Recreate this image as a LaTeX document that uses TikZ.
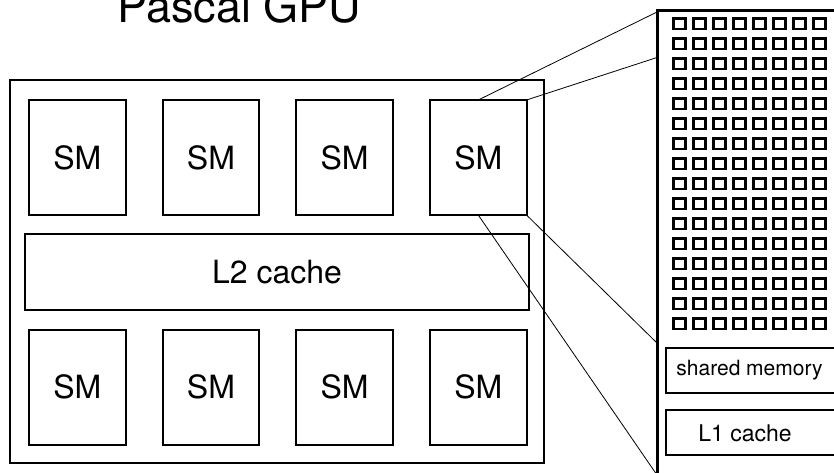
\documentclass[tikz,border=0pt]{standalone}
\usepackage{fontspec}
\setmainfont{TeX Gyre Heros}

\tikzset{
  smbox/.style={draw=black, line width=2pt, minimum width=96.5pt,
    minimum height=115pt, font=\fontsize{32}{38}\selectfont},
  cell/.style={draw=black, line width=2.2pt},
  membox/.style={draw=black, line width=2pt},
  link/.style={draw=black, line width=0.8pt},
}

\begin{document}
\begin{tikzpicture}[y=1pt, x=1pt, yscale=-1, inner sep=0pt, outer sep=0pt]
\useasboundingbox (0,0) rectangle (834,472);
\clip (0,0) rectangle (834,472);
  % the GPU
  \path (239.5,22) node[anchor=base, font=\fontsize{45}{54}\selectfont]
    (gputitle) {Pascal GPU};
  \path[draw=black, line width=2pt] (10,80) rectangle (544,463);
  \foreach \i in {0,...,3} {
    \node[smbox] (smtop\i) at (77.25+133.67*\i,157.5) {SM};
    \node[smbox] (smbot\i) at (77.25+133.67*\i,387) {SM};
  }
  \node[smbox, minimum width=504pt, minimum height=76pt] (ltwo) at (277,272)
    {L2 cache};
  % one SM, zoomed
  \node[draw=black, line width=3pt, anchor=north west, minimum width=260pt,
    minimum height=500pt] (smpanel) at (657,10) {};
  \foreach \r in {0,...,15}
    \foreach \c in {0,...,7}
      \path[cell] (673.5+20*\c,18.5+20*\r) rectangle ++(12,10.5);
  \path[membox] (666,348) rectangle (900,393);
  \node[font=\fontsize{21}{25}\selectfont] (shmem) at (749.5,370.5)
    {shared memory};
  \path[membox] (666,410) rectangle (900,455);
  \node[font=\fontsize{23}{28}\selectfont] (lone) at (745,433) {L1 cache};
  % zoom lines
  \coordinate (pa) at (657,12);
  \coordinate (pb) at (657,57.5);
  \coordinate (pc) at (657,343);
  \coordinate (pd) at (657,475);
  \draw[link] (smtop3.north) -- (pa);
  \draw[link] (smtop3.north east) -- (pb);
  \draw[link] (smtop3.south east) -- (pc);
  \draw[link] (smtop3.south) -- (pd);
\end{tikzpicture}
\end{document}
